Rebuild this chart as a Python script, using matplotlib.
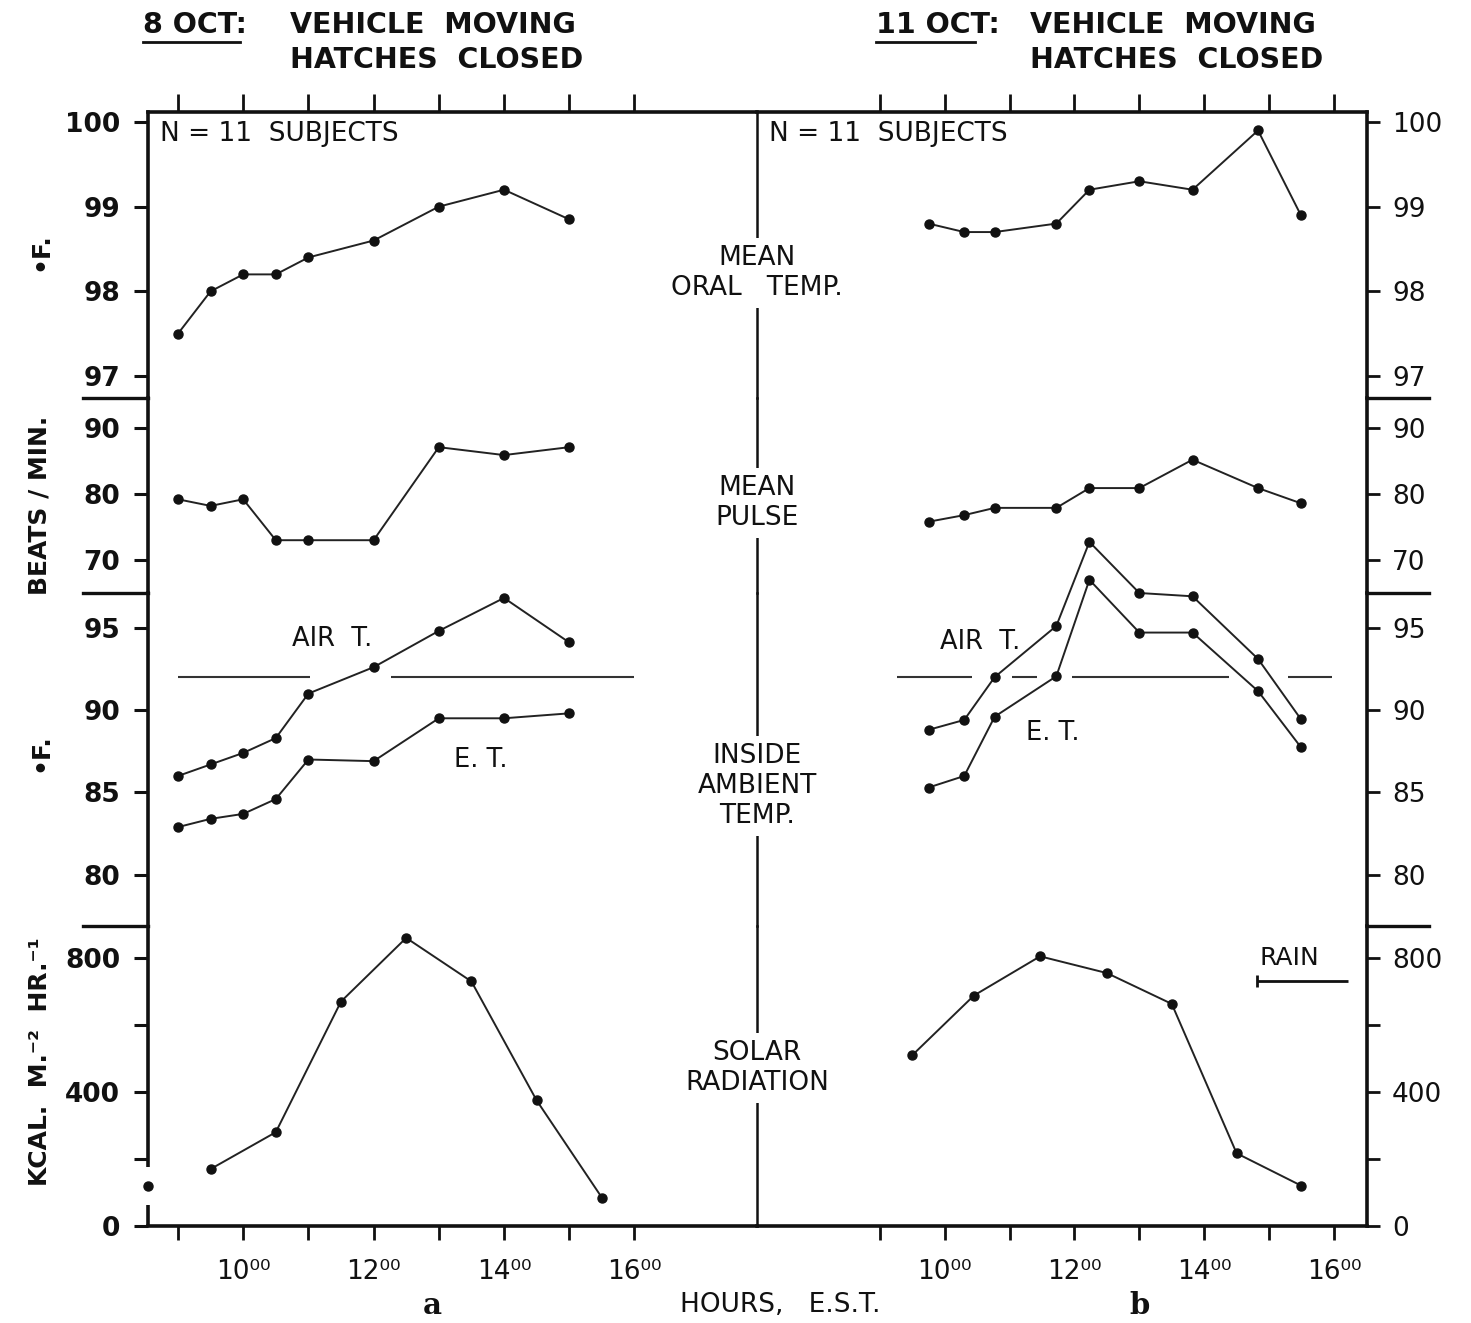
import matplotlib
matplotlib.use("Agg")
import matplotlib.pyplot as plt
from matplotlib.lines import Line2D

plt.rcParams["font.family"] = ["DejaVu Sans"]

# ---------------------------------------------------------------- data
# (a) 8 October, vehicle moving, hatches closed
hours_a = [9.0, 9.5, 10.0, 10.5, 11.0, 12.0, 13.0, 14.0, 15.0]
oral_a = [97.5, 98.0, 98.2, 98.2, 98.4, 98.6, 99.0, 99.2, 98.85]
pulse_a = [79.2, 78.2, 79.2, 73.0, 73.0, 73.0, 87.1, 85.9, 87.1]
air_a = [86.0, 86.7, 87.4, 88.3, 91.0, 92.6, 94.8, 96.8, 94.1]
et_a = [82.9, 83.4, 83.7, 84.6, 87.0, 86.9, 89.5, 89.5, 89.8]
solar_hours_a = [9.5, 10.5, 11.5, 12.5, 13.5, 14.5, 15.5]
solar_a = [170, 280, 670, 860, 730, 375, 85]
solar_early_hour_a = 8.54
solar_early_a = 120

# (b) 11 October, vehicle moving, hatches closed
hours_b = [9.75, 10.3, 10.77, 11.72, 12.23, 13.0, 13.82, 14.83, 15.49]
oral_b = [98.8, 98.7, 98.7, 98.8, 99.2, 99.3, 99.2, 99.9, 98.9]
pulse_b = [75.8, 76.8, 77.9, 77.9, 80.9, 80.9, 85.2, 80.9, 78.6]
air_b = [88.8, 89.4, 92.0, 95.1, 100.2, 97.1, 96.9, 93.1, 89.45]
et_b = [85.3, 86.0, 89.6, 92.05, 97.9, 94.7, 94.7, 91.15, 87.75]
solar_hours_b = [9.5, 10.45, 11.47, 12.5, 13.5, 14.5, 15.5]
solar_b = [510, 688, 805, 755, 663, 217, 120]

# 92 F reference level and the stretches where it is drawn
ref_temp = 92.0
ref_spans_a = [(9.0, 11.03), (12.27, 15.99)]
ref_spans_b = [(9.26, 10.42), (11.03, 11.42), (11.96, 14.38), (15.29, 15.97)]

# rain period on 11 October
rain_span = (14.82, 16.22)
rain_level = 730

hour_ticks = [9, 10, 11, 12, 13, 14, 15, 16]
hour_labels = ["", "10⁰⁰", "", "12⁰⁰", "", "14⁰⁰", "", "16⁰⁰"]

row_ticks = {
    "oral": [97, 98, 99, 100],
    "pulse": [70, 80, 90],
    "ambient": [80, 85, 90, 95],
    "solar": [0, 200, 400, 600, 800],
}
row_tick_labels = {
    "oral": ["97", "98", "99", "100"],
    "pulse": ["70", "80", "90"],
    "ambient": ["80", "85", "90", "95"],
    "solar": ["0", "", "400", "", "800"],
}

# ---------------------------------------------------------------- layout
W, H = 1471, 1323
fig = plt.figure(figsize=(W / 100, H / 100), dpi=100)
fig.patch.set_facecolor("white")


def fx(px):
    return px / W


def fy(py):
    return 1 - py / H


def box(x0, x1, y0, y1):
    return [x0 / W, 1 - y1 / H, (x1 - x0) / W, (y1 - y0) / H]


rows = {"oral": (112, 398), "pulse": (398, 593), "ambient": (593, 926), "solar": (926, 1226)}
cols = {"a": (148, 757), "b": (757, 1367)}
xlims = {"a": (8.54, 17.88), "b": (7.105, 16.51)}
ylims = {"oral": (96.74, 100.118), "pulse": (65.0, 94.55),
         "ambient": (76.9, 97.1), "solar": (0, 895.5)}

INK = "#111111"
LINE = "#222222"
FRAME_LW = 2.6

axes = {}
for rname, (ry0, ry1) in rows.items():
    for cname, (cx0, cx1) in cols.items():
        ax = fig.add_axes(box(cx0, cx1, ry0, ry1))
        ax.set_facecolor("none")
        ax.set_xlim(*xlims[cname])
        ax.set_ylim(*ylims[rname])
        for s in ax.spines.values():
            s.set_visible(False)
            s.set_color(INK)
        ax.set_yticks(row_ticks[rname])
        ax.set_yticklabels(row_tick_labels[rname])
        if cname == "a":
            ax.yaxis.set_ticks_position("left")
            ax.tick_params(axis="y", direction="out", length=10, width=2.2,
                           pad=10, labelsize=19, colors=INK)
            for t in ax.get_yticklabels():
                t.set_fontweight("bold")
            if rname != "solar":
                ax.spines["left"].set_visible(True)
                ax.spines["left"].set_linewidth(FRAME_LW)
        else:
            ax.yaxis.set_ticks_position("right")
            ax.tick_params(axis="y", direction="out", length=9, width=2.0,
                           pad=9, labelsize=19, colors=INK)
            ax.spines["right"].set_visible(True)
            ax.spines["right"].set_linewidth(FRAME_LW)
            ax.spines["left"].set_visible(True)
            ax.spines["left"].set_linewidth(1.8)
        ax.set_xticks(hour_ticks)
        if rname == "oral":
            ax.xaxis.set_ticks_position("top")
            ax.tick_params(axis="x", direction="out", length=13, width=2.0,
                           labeltop=False, labelbottom=False, colors=INK)
            ax.spines["top"].set_visible(True)
            ax.spines["top"].set_linewidth(FRAME_LW)
        elif rname == "solar":
            ax.xaxis.set_ticks_position("bottom")
            ax.set_xticklabels(hour_labels)
            ax.tick_params(axis="x", direction="out", length=10, width=2.0,
                           pad=14, labelsize=19, colors=INK)
            ax.spines["bottom"].set_visible(True)
            ax.spines["bottom"].set_linewidth(FRAME_LW)
        else:
            ax.tick_params(axis="x", which="both", length=0,
                           labelbottom=False, labeltop=False)
        axes[(rname, cname)] = ax

style = dict(color=LINE, lw=1.4, marker="o", ms=6.5, mfc=INK, mec=INK,
             clip_on=False, zorder=3)

# mean oral temperature
axes[("oral", "a")].plot(hours_a, oral_a, **style)
axes[("oral", "b")].plot(hours_b, oral_b, **style)

# mean pulse
axes[("pulse", "a")].plot(hours_a, pulse_a, **style)
axes[("pulse", "b")].plot(hours_b, pulse_b, **style)

# inside ambient temperature: air and effective temperature
for cname, hrs, air, et, spans in (("a", hours_a, air_a, et_a, ref_spans_a),
                                   ("b", hours_b, air_b, et_b, ref_spans_b)):
    ax = axes[("ambient", cname)]
    ax.plot(hrs, air, **style)
    ax.plot(hrs, et, **style)
    for h0, h1 in spans:
        ax.plot([h0, h1], [ref_temp, ref_temp], color="#333333", lw=1.5,
                solid_capstyle="butt", zorder=2)

lab = dict(fontsize=18.5, ha="center", va="center", color=INK)
axa = axes[("ambient", "a")]
axa.text(11.37, 94.3, "AIR  T.", **lab)
axa.text(13.64, 87.0, "E. T.", **lab)
axb = axes[("ambient", "b")]
axb.text(10.54, 94.1, "AIR  T.", **lab)
axb.text(11.67, 88.6, "E. T.", **lab)

# solar radiation
axs = axes[("solar", "a")]
axs.plot(solar_hours_a, solar_a, **style)
axs.plot([solar_early_hour_a], [solar_early_a], marker="o", ms=6.5,
         color=INK, ls="none", clip_on=False, zorder=4)
# left frame edge, interrupted around the early reading
ytr = axs.get_yaxis_transform()
for v0, v1 in ((0, 63), (176, 895.5)):
    axs.plot([0, 0], [v0, v1], transform=ytr, color=INK, lw=FRAME_LW,
             solid_capstyle="butt", clip_on=False, zorder=3)

axs_b = axes[("solar", "b")]
axs_b.plot(solar_hours_b, solar_b, **style)
axs_b.plot(list(rain_span), [rain_level, rain_level], color=INK, lw=2.0,
           solid_capstyle="butt")
axs_b.plot([rain_span[0]], [rain_level], marker="|", ms=9, mew=2.0, color=INK)
axs_b.text(15.32, 800, "RAIN", fontsize=18, ha="center", va="center", color=INK)

# subject counts
for cname in ("a", "b"):
    axes[("oral", cname)].text(0.02, 0.923, "N = 11  SUBJECTS", fontsize=19,
                               transform=axes[("oral", cname)].transAxes,
                               ha="left", va="center", color=INK)

# ---------------------------------------------------------------- frame extras
# short separators between the stacked scales
for py in (398, 593, 926):
    fig.add_artist(Line2D([fx(83), fx(148)], [fy(py), fy(py)], color=INK, lw=2.4))
    fig.add_artist(Line2D([fx(1367), fx(1429)], [fy(py), fy(py)], color=INK, lw=2.4))

# centre captions, masking the divider behind them
centre = dict(ha="center", va="center", fontsize=19, color=INK,
              multialignment="center", linespacing=1.22,
              bbox=dict(facecolor="white", edgecolor="none", pad=5), zorder=10)
fig.text(fx(757), fy(273), "MEAN\nORAL   TEMP.", **centre)
fig.text(fx(757), fy(503), "MEAN\nPULSE", **centre)
fig.text(fx(757), fy(786), "INSIDE\nAMBIENT\nTEMP.", **centre)
fig.text(fx(757), fy(1068), "SOLAR\nRADIATION", **centre)

# headings
head = dict(ha="left", va="center", fontsize=20.5, fontweight="bold", color=INK)
fig.text(fx(143), fy(25), "8 OCT:", **head)
fig.text(fx(290), fy(25), "VEHICLE  MOVING", **head)
fig.text(fx(290), fy(60), "HATCHES  CLOSED", **head)
fig.text(fx(876), fy(25), "11 OCT:", **head)
fig.text(fx(1030), fy(25), "VEHICLE  MOVING", **head)
fig.text(fx(1030), fy(60), "HATCHES  CLOSED", **head)
fig.add_artist(Line2D([fx(143), fx(240)], [fy(42), fy(42)], color=INK, lw=2))
fig.add_artist(Line2D([fx(876), fx(975)], [fy(42), fy(42)], color=INK, lw=2))

# axis titles
ylab = dict(rotation=90, ha="center", va="center", fontsize=18,
            fontweight="bold", color=INK)
fig.text(fx(40), fy(252), "•F.", **ylab)
fig.text(fx(40), fy(505), "BEATS / MIN.", **ylab)
fig.text(fx(40), fy(753), "•F.", **ylab)
fig.text(fx(40), fy(1062), "KCAL.  M.⁻²  HR.⁻¹", **ylab)

fig.text(fx(432), fy(1305), "a", ha="center", va="center", fontsize=21,
         fontweight="bold", family="DejaVu Serif", color=INK)
fig.text(fx(1140), fy(1305), "b", ha="center", va="center", fontsize=21,
         fontweight="bold", family="DejaVu Serif", color=INK)
fig.text(fx(780), fy(1305), "HOURS,   E.S.T.", ha="center", va="center",
         fontsize=19, color=INK)

fig.savefig("out.png", dpi=100, facecolor="white")
